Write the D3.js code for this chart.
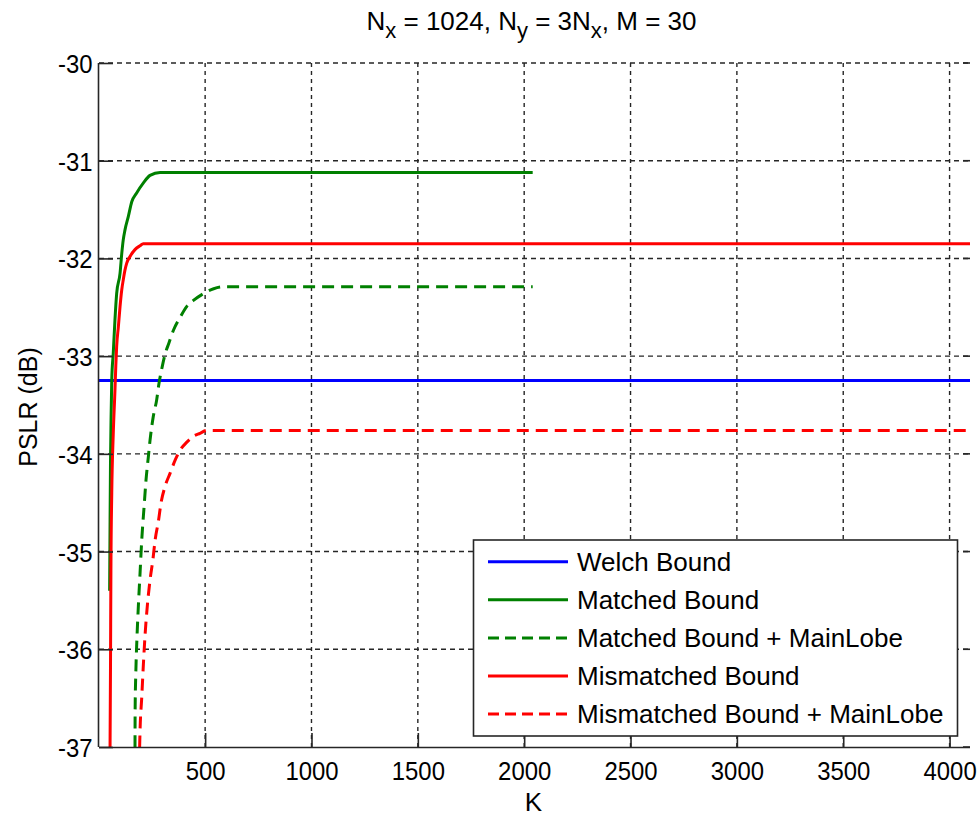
<!DOCTYPE html>
<html>
<head>
<meta charset="utf-8">
<script src="https://cdn.jsdelivr.net/npm/d3@7/dist/d3.min.js"></script>
<style>
  html, body { margin: 0; padding: 0; background: #fff; }
  svg { display: block; font-family: "Liberation Sans", Arial, sans-serif; }
</style>
</head>
<body>
<svg id="chart" width="980" height="818"></svg>
<script>
// ---------------- data ----------------
const xTicks = [500, 1000, 1500, 2000, 2500, 3000, 3500, 4000];
const yTicks = [-37, -36, -35, -34, -33, -32, -31, -30];

const seriesNames = ["Welch Bound", "Matched Bound", "Matched Bound + MainLobe",
                     "Mismatched Bound", "Mismatched Bound + MainLobe"];

const welchK = [1, 4096];
const welchDb = [-33.25, -33.25];

const matchedK = [51, 53, 55, 58, 61, 68, 76, 84, 100, 108, 115, 123, 139, 155, 178, 209, 241, 288, 2040];
const matchedDb = [-35.40, -34.70, -34.10, -33.60, -33.24, -32.97, -32.63, -32.36, -32.15, -31.95, -31.81,
                   -31.71, -31.57, -31.42, -31.33, -31.23, -31.15, -31.12, -31.12];

const matchedMlK = [170, 171, 174, 179, 186, 194, 202, 213, 222, 233, 241, 256, 272, 283, 298, 313, 329,
                    352, 383, 414, 445, 492, 540, 587, 2040];
const matchedMlDb = [-37.2, -36.59, -36.25, -35.91, -35.56, -35.22, -34.88, -34.54, -34.27, -34.03, -33.86,
                     -33.62, -33.45, -33.28, -33.11, -32.97, -32.87, -32.73, -32.60, -32.49, -32.43, -32.36,
                     -32.31, -32.29, -32.29];

const mismatchedK = [52, 53, 55, 57, 61, 68, 76, 80, 84, 92, 100, 108, 115, 123, 131, 147, 170, 194, 209, 4096];
const mismatchedDb = [-37.3, -37.0, -36.2, -35.2, -34.4, -33.8, -33.35, -33.1, -32.90, -32.70, -32.49, -32.32,
                      -32.22, -32.12, -32.05, -31.98, -31.91, -31.87, -31.85, -31.85];

const mismatchedMlK = [190, 194, 202, 210, 218, 228, 241, 254, 265, 281, 292, 312, 335, 360, 383, 414, 445,
                       476, 508, 4096];
const mismatchedMlDb = [-37.2, -36.83, -36.49, -36.14, -35.84, -35.56, -35.29, -35.09, -34.88, -34.68, -34.51,
                        -34.33, -34.20, -34.06, -33.96, -33.88, -33.82, -33.79, -33.76, -33.76];

// ---------------- layout ----------------
const svg = d3.select("#chart");
const L = 99, R = 970, T = 63, B = 747;
const x = d3.scaleLinear().domain([1, 4096]).range([L, R]);
const y = d3.scaleLinear().domain([-37, -30]).range([B, T]);

const series = [
  { name: seriesNames[0], K: welchK, v: welchDb, color: "#0000ff", dash: null },
  { name: seriesNames[1], K: matchedK, v: matchedDb, color: "#008000", dash: null },
  { name: seriesNames[2], K: matchedMlK, v: matchedMlDb, color: "#008000", dash: "12,7" },
  { name: seriesNames[3], K: mismatchedK, v: mismatchedDb, color: "#ff0000", dash: null },
  { name: seriesNames[4], K: mismatchedMlK, v: mismatchedMlDb, color: "#ff0000", dash: "12,7" }
];

const gridColor = "#262626";
const axisColor = "#262626";
const TICK = 14;
const SX = 0.92; // horizontal squeeze of tick labels
const fmt = d => String(d);

// grid lines
const grid = svg.append("g");
grid.selectAll("line.vg").data(xTicks).join("line")
  .attr("x1", d => x(d)).attr("x2", d => x(d))
  .attr("y1", T).attr("y2", B)
  .attr("stroke", gridColor).attr("stroke-width", 1.4).attr("stroke-dasharray", "4,4");
grid.selectAll("line.hg").data(yTicks.filter(d => d !== -37)).join("line")
  .attr("x1", L).attr("x2", R)
  .attr("y1", d => y(d)).attr("y2", d => y(d))
  .attr("stroke", gridColor).attr("stroke-width", 1.4).attr("stroke-dasharray", "5,4");

// clip
svg.append("clipPath").attr("id", "plotclip")
  .append("rect").attr("x", L).attr("y", T - 2).attr("width", R - L + 2).attr("height", B - T + 2);

const line = d3.line().x(d => x(d[0])).y(d => y(d[1])).curve(d3.curveMonotoneX);
const lines = svg.append("g").attr("clip-path", "url(#plotclip)");
series.forEach(s => {
  const pts = s.K.map((k, i) => [k, s.v[i]]);
  lines.append("path").datum(pts)
    .attr("d", line)
    .attr("fill", "none")
    .attr("stroke", s.color)
    .attr("stroke-width", 3)
    .attr("stroke-dasharray", s.dash);
});

// axes (inward ticks)
const xAxis = svg.append("g").attr("transform", `translate(0,${B})`)
  .call(d3.axisBottom(x).tickValues(xTicks).tickFormat(fmt).tickSizeInner(-TICK).tickSizeOuter(0).tickPadding(0));
xAxis.select(".domain").attr("d", `M${L},0.5H${R}`).attr("stroke", axisColor).attr("stroke-width", 1.6);
xAxis.selectAll(".tick line").attr("stroke", axisColor).attr("stroke-width", 1.6);
xAxis.selectAll(".tick text")
  .attr("y", null).attr("dy", null)
  .attr("transform", `translate(0,33) scale(${SX},1)`)
  .attr("font-size", 26).attr("fill", "#000").attr("font-family", "Liberation Sans, Arial, sans-serif");

const yAxis = svg.append("g").attr("transform", `translate(${L},0)`)
  .call(d3.axisLeft(y).tickValues(yTicks).tickFormat(fmt).tickSizeInner(-TICK).tickSizeOuter(0).tickPadding(0));
yAxis.select(".domain").attr("d", `M-0.5,${T}V${B}`).attr("stroke", axisColor).attr("stroke-width", 1.6);
yAxis.selectAll(".tick line").attr("stroke", axisColor).attr("stroke-width", 1.6);
yAxis.selectAll(".tick text")
  .attr("x", null).attr("dy", null)
  .attr("text-anchor", "end")
  .attr("transform", `translate(-6.5,9.5) scale(${SX},1)`)
  .attr("font-size", 26).attr("fill", "#000").attr("font-family", "Liberation Sans, Arial, sans-serif");

// right-side inward ticks
svg.append("g").selectAll("line").data(yTicks).join("line")
  .attr("x1", R - 7).attr("x2", R)
  .attr("y1", d => y(d)).attr("y2", d => y(d))
  .attr("stroke", axisColor).attr("stroke-width", 1.6);

// title
const title = svg.append("text")
  .attr("x", (L + R) / 2 - 3).attr("y", 30)
  .attr("text-anchor", "middle").attr("font-size", 26).attr("fill", "#000");
const parts = [["N", 0], ["x", 1], [" = 1024, N", 0], ["y", 1], [" = 3N", 0], ["x", 1], [", M = 30", 0]];
parts.forEach(([t, sub]) => {
  const ts = title.append("tspan").text(t);
  if (sub) ts.attr("font-size", 22).attr("dy", 8);
});
title.selectAll("tspan").each(function(d, i) {
  const sub = parts[i][1], prevSub = i > 0 ? parts[i - 1][1] : 0;
  if (!sub && prevSub) d3.select(this).attr("dy", -8);
});

// axis labels
svg.append("text")
  .attr("transform", `translate(37,${(T + B) / 2 + 2}) rotate(-90)`)
  .attr("text-anchor", "middle").attr("font-size", 25).attr("fill", "#000")
  .text("PSLR (dB)");
svg.append("text")
  .attr("x", (L + R) / 2 - 1).attr("y", 811)
  .attr("text-anchor", "middle").attr("font-size", 26).attr("fill", "#000")
  .text("K");

// legend
const lg = svg.append("g");
const lx0 = 473.5, ly0 = 540, lw = 484, lh = 196;
lg.append("rect").attr("x", lx0).attr("y", ly0).attr("width", lw).attr("height", lh)
  .attr("fill", "#fff").attr("stroke", axisColor).attr("stroke-width", 1.6);
const rowY = i => 561.7 + i * 38.1;
series.forEach((s, i) => {
  lg.append("line").attr("x1", 488).attr("x2", 568)
    .attr("y1", rowY(i)).attr("y2", rowY(i))
    .attr("stroke", s.color).attr("stroke-width", 3)
    .attr("stroke-dasharray", s.dash ? "11,6" : null);
  lg.append("text").attr("x", 577).attr("y", rowY(i) + 9.3)
    .attr("font-size", 26).attr("fill", "#000").text(s.name);
});
</script>
</body>
</html>
